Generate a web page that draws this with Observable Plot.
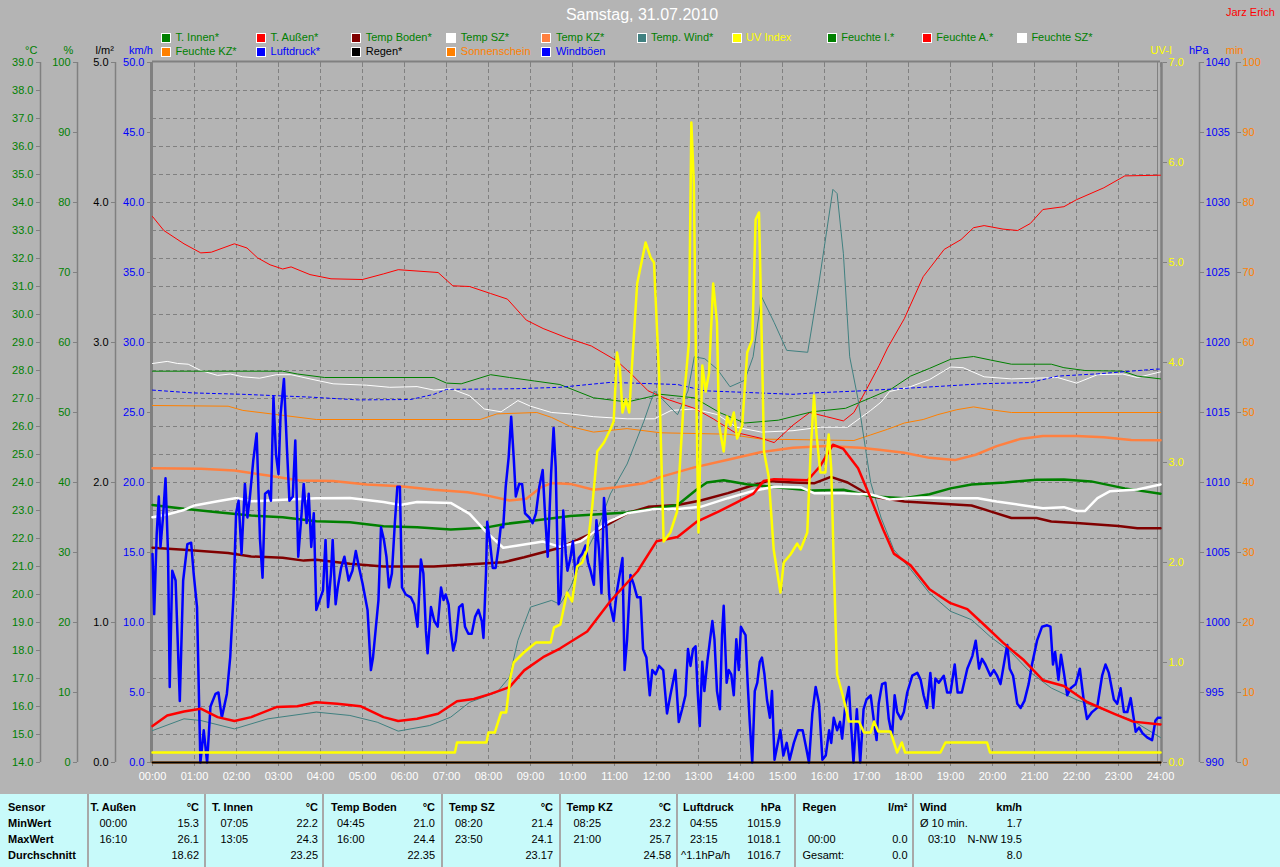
<!DOCTYPE html>
<html><head><meta charset="utf-8">
<script src="https://cdn.jsdelivr.net/npm/d3@7"></script>
<script src="https://cdn.jsdelivr.net/npm/@observablehq/plot@0.6"></script>
<style>
html,body{margin:0;padding:0;background:#b4b4b4;overflow:hidden;}
#wrap{position:relative;width:1280px;height:867px;overflow:hidden;background:#b4b4b4;font-family:"Liberation Sans",Arial,sans-serif;font-size:11px;}
#chart{position:absolute;left:0;top:0;}
.abs{position:absolute;white-space:nowrap;line-height:13px;}
.sw{position:absolute;width:10px;height:10px;box-sizing:border-box;border:1px solid #fff;}
#table{position:absolute;left:0;top:794px;width:1280px;height:73px;background:#c8fafa;}
.sep{position:absolute;top:0;width:2px;height:73px;background:#a8a8a8;}
.b{font-weight:bold;}
</style></head><body><div id="wrap"><div id="chart"></div><div id="table"></div></div>
<script>
// ---------- ticks / labels ----------
const hours = d3.range(0, 25);
const hourLabels = hours.map(h => String(h).padStart(2, "0") + ":00");
const tempTicks = d3.range(14, 40);
const humTicks = d3.range(0, 101, 10);
const rainTicks = d3.range(0, 6);
const windTicks = d3.range(0, 51, 5);
const uvTicks = d3.range(0, 8);
const pressTicks = d3.range(990, 1041, 5);
const sunTicks = d3.range(0, 101, 10);

// ---------- series: [hour, value] ----------
const tInnen = [[0,23.2],[0.75,23.06],[1.55,22.94],[2.35,22.82],[3.1,22.76],[3.9,22.62],[4.7,22.58],[5.5,22.44],[6.3,22.4],[7.1,22.32],[7.9,22.38],[8.4,22.52],[9.1,22.64],[9.95,22.8],[11.3,22.93],[12.5,23.2],[12.95,23.74],[13.2,24.0],[13.6,24.08],[14.15,23.94],[14.9,23.82],[15.7,23.71],[16.45,23.74],[17.1,23.51],[17.9,23.44],[18.5,23.58],[19.0,23.79],[19.5,23.93],[20.3,24.0],[21.05,24.1],[21.7,24.11],[22.35,24.04],[23.15,23.79],[24,23.6]];
const tAussen = [[0,15.3],[0.35,15.68],[0.75,15.82],[1.15,15.92],[1.55,15.62],[1.95,15.48],[2.35,15.62],[2.95,15.98],[3.45,16.01],[3.9,16.15],[4.4,16.1],[4.95,16.01],[5.5,15.62],[5.85,15.48],[6.3,15.56],[6.8,15.74],[7.25,16.19],[7.65,16.27],[8.05,16.45],[8.5,16.69],[8.85,17.29],[9.3,17.76],[9.7,18.07],[10.35,18.68],[10.9,19.76],[11.55,20.83],[12.0,21.9],[12.5,22.05],[12.95,22.59],[13.5,22.98],[13.9,23.28],[14.3,23.59],[14.55,24.05],[14.8,24.12],[15.6,24.08],[15.9,24.59],[16.2,25.35],[16.45,25.2],[16.8,24.51],[17.1,23.44],[17.4,22.31],[17.65,21.46],[18.05,21.04],[18.5,20.19],[19.0,19.69],[19.4,19.48],[19.8,18.92],[20.25,18.28],[20.75,17.65],[21.2,16.94],[21.7,16.73],[22.25,16.16],[22.9,15.74],[23.35,15.46],[24,15.36]];
const tempBoden = [[0,21.67],[0.75,21.6],[1.8,21.48],[2.35,21.36],[3.1,21.31],[3.6,21.21],[3.9,21.24],[4.7,21.1],[5.5,21.0],[6.7,21.0],[7.5,21.07],[8.35,21.15],[8.85,21.33],[9.3,21.51],[9.7,21.67],[10.5,22.21],[11.3,22.9],[11.8,23.13],[12.5,23.2],[13.05,23.36],[13.7,23.62],[14.3,23.9],[14.65,24.05],[15.25,24.0],[15.75,23.97],[16.15,24.2],[16.55,24.0],[16.85,23.74],[17.1,23.51],[17.9,23.32],[18.7,23.25],[19.5,23.18],[19.95,22.97],[20.45,22.73],[21.05,22.73],[21.4,22.61],[22.0,22.55],[23.0,22.45],[23.45,22.37],[24,22.37]];
const tempSZ = [[0,22.76],[0.35,22.86],[0.75,23.02],[1.0,23.18],[1.55,23.33],[2.0,23.45],[2.35,23.33],[3.1,23.38],[3.9,23.44],[4.7,23.45],[5.5,23.3],[5.9,23.2],[6.3,23.3],[7.1,23.27],[7.55,22.88],[7.95,22.23],[8.35,21.67],[8.7,21.75],[9.3,21.89],[9.7,21.7],[10.2,21.9],[10.85,22.59],[11.3,22.9],[11.95,23.05],[12.5,23.05],[13.05,23.13],[13.7,23.44],[14.3,23.7],[14.8,23.85],[15.45,23.82],[15.75,23.62],[16.45,23.62],[17.1,23.57],[17.55,23.39],[18.3,23.46],[19.0,23.44],[19.65,23.44],[20.1,23.32],[20.75,23.18],[21.2,23.08],[21.7,23.12],[22.0,22.98],[22.2,22.98],[22.5,23.44],[22.8,23.69],[23.45,23.75],[24,23.93]];
const tempKZ = [[0,24.51],[1.15,24.49],[1.95,24.43],[2.75,24.25],[3.5,24.07],[4.3,24.05],[5.1,23.93],[5.9,23.87],[6.7,23.74],[7.5,23.65],[7.95,23.54],[8.5,23.36],[8.9,23.42],[9.25,23.83],[9.5,23.98],[9.95,23.95],[10.5,23.74],[11.0,23.82],[11.7,23.97],[12.1,24.2],[12.9,24.54],[13.7,24.81],[14.5,25.09],[15.25,25.24],[16.05,25.3],[16.85,25.24],[17.3,25.17],[17.9,25.06],[18.5,24.88],[19.1,24.8],[19.6,24.99],[20.1,25.3],[20.65,25.55],[21.2,25.66],[22.0,25.66],[22.65,25.62],[23.3,25.52],[24,25.51]];
const tempWind = [[0,15.14],[0.75,15.56],[1.15,15.5],[1.95,15.2],[2.75,15.56],[3.9,15.8],[4.7,15.68],[5.35,15.44],[5.85,15.12],[6.6,15.32],[7.1,15.62],[7.55,16.15],[8.2,16.51],[8.5,17.05],[8.7,18.36],[9.0,19.55],[9.5,19.79],[9.7,19.65],[9.95,20.26],[10.2,21.14],[10.6,22.36],[10.9,23.59],[11.3,24.66],[11.7,26.19],[11.95,27.27],[12.15,26.96],[12.5,26.42],[12.75,27.27],[12.9,28.49],[13.15,28.42],[13.45,28.04],[13.75,27.42],[14.1,27.65],[14.3,28.49],[14.5,30.64],[14.8,29.72],[15.1,28.72],[15.6,28.65],[15.85,30.95],[16.2,34.47],[16.3,34.32],[16.45,32.17],[16.6,28.49],[16.8,26.96],[17.0,24.97],[17.1,24.0],[17.35,22.73],[17.65,21.6],[18.05,20.9],[18.5,20.05],[19.0,19.4],[19.5,19.1],[19.95,18.49],[20.45,17.93],[20.9,17.22],[21.4,16.66],[22.0,16.24],[22.65,15.88],[23.3,15.53],[24,14.89]];
const feuchteI = [[0,55.9],[3.1,55.9],[3.45,55.5],[4.1,55],[6.7,55],[7.0,54.2],[7.35,54.1],[8.05,55.4],[8.5,55],[9.1,54.5],[9.7,54],[10.5,52.1],[11.3,51.5],[12.1,52.6],[12.9,52.1],[13.5,50],[14.1,48.5],[14.9,48.9],[15.7,50.1],[16.5,50.6],[17.1,52.1],[17.6,53.4],[18.05,55.2],[18.5,56.3],[19.0,57.6],[19.55,58],[19.95,57.5],[20.45,56.9],[21.4,56.9],[21.7,56.4],[22.2,56],[23.1,55.9],[23.45,55.2],[24,54.8]];
const feuchteA = [[0,78],[0.27,76],[0.75,74.1],[1.15,72.8],[1.4,72.9],[1.95,74.1],[2.25,73.5],[2.5,72.1],[2.8,71.1],[3.1,70.5],[3.3,70.8],[3.75,69.7],[4.25,69.1],[5.0,69.0],[5.5,69.8],[5.85,70.4],[6.8,70],[7.15,68.1],[7.55,68],[8.05,67],[8.45,66.2],[8.9,63.2],[9.3,62],[9.85,60.7],[10.45,59.5],[11.05,57.4],[11.4,55.5],[11.8,53.1],[12.25,51.9],[12.9,50.6],[13.35,49.1],[13.85,47.2],[14.5,46.3],[14.8,45.7],[15.25,48.2],[15.65,50],[16.05,49.4],[16.45,48.8],[16.7,50],[17.0,53.3],[17.3,56.7],[17.5,59.2],[17.9,63.4],[18.35,69.4],[18.85,73.3],[19.25,74.7],[19.55,76.4],[19.8,76.7],[20.25,76.2],[20.6,76],[20.9,77],[21.2,79],[21.7,79.4],[22.0,80.4],[22.65,82.1],[23.15,83.8],[24,83.9]];
const feuchteSZ = [[0,57],[0.35,57.3],[0.6,57],[0.85,56.9],[1.15,56],[1.55,55.3],[1.85,55.5],[2.15,55.1],[2.55,54.9],[2.95,55.4],[3.3,55.4],[3.75,54.8],[4.3,54.1],[5.1,53.9],[5.65,53.6],[6.3,53.7],[6.7,53.2],[7.1,53.4],[7.55,52.4],[7.9,50.5],[8.3,50.1],[8.7,51.7],[9.0,50.9],[9.5,50],[9.95,49.8],[10.5,49.4],[11.3,49.1],[11.95,49.1],[12.35,50.3],[12.9,50.5],[13.45,49.7],[13.9,47.9],[14.5,47.2],[15.25,47.4],[15.9,47.9],[16.55,47.9],[17.1,50.3],[17.35,51.5],[17.55,53],[18.05,53.7],[18.5,54.7],[19.0,56.5],[19.3,56.4],[19.8,55.1],[20.45,54.8],[21.55,55],[22.0,54.2],[22.5,55.4],[23.1,55.5],[23.45,55],[24,55.8]];
const feuchteKZ = [[0,51],[1.8,50.9],[2.15,50.3],[3.1,49.6],[3.9,49],[7.8,49],[8.2,49.8],[9.15,50],[9.5,49.3],[9.95,48],[10.5,47.2],[11.3,47.7],[12.1,47.1],[13.7,46.9],[14.5,46.2],[16.7,46],[17.1,46.8],[17.5,47.6],[17.9,48.5],[18.35,49],[18.7,49.7],[19.15,50.4],[19.55,50.8],[19.95,50.4],[20.45,50],[24,50]];
const luftdruck = [[0,1016.6],[0.95,1016.4],[2.15,1016.3],[3.75,1016.1],[4.9,1015.9],[6.15,1015.93],[6.7,1016.3],[7.0,1016.65],[8.7,1016.7],[9.7,1016.8],[10.9,1017.15],[12.5,1017.0],[13.15,1016.55],[15.25,1016.3],[15.75,1016.4],[16.9,1016.55],[18.7,1016.86],[19.8,1017.06],[20.9,1017.14],[21.55,1017.6],[22.5,1017.76],[23.9,1018.1],[24,1018.1]];
const regen = [[0,0],[24,0]];
const sonnenschein = [[0,0],[24,0]];
const uvIndex = [[0,0.1],[7.2,0.1],[7.25,0.2],[7.95,0.2],[8.0,0.3],[8.15,0.3],[8.3,0.5],[8.42,0.5],[8.52,0.85],[8.6,1.0],[8.84,1.1],[9.13,1.2],[9.48,1.2],[9.56,1.35],[9.71,1.38],[9.87,1.7],[9.99,1.61],[10.11,1.96],[10.23,2.0],[10.35,2.13],[10.47,2.56],[10.59,3.11],[10.75,3.2],[10.9,3.33],[10.98,3.41],[11.06,4.1],[11.13,3.93],[11.19,3.5],[11.27,3.63],[11.35,3.5],[11.43,4.06],[11.54,4.79],[11.74,5.2],[11.86,5.05],[11.94,5.0],[12.06,3.89],[12.17,2.21],[12.33,2.3],[12.49,2.51],[12.65,3.63],[12.77,4.19],[12.83,6.4],[12.89,5.78],[12.95,3.63],[13.0,2.3],[13.09,3.97],[13.17,3.71],[13.25,3.89],[13.35,4.79],[13.44,4.4],[13.49,3.37],[13.6,3.11],[13.68,3.46],[13.76,3.37],[13.84,3.5],[13.92,3.24],[14.04,3.37],[14.16,4.1],[14.28,4.23],[14.36,5.43],[14.44,5.5],[14.48,4.75],[14.56,3.11],[14.67,2.86],[14.79,2.13],[14.95,1.7],[15.03,2.0],[15.19,2.08],[15.35,2.19],[15.43,2.13],[15.59,2.3],[15.67,3.11],[15.75,3.67],[15.81,3.28],[15.9,2.9],[16.02,2.9],[16.06,3.11],[16.1,3.28],[16.16,2.94],[16.22,2.0],[16.3,0.88],[16.46,0.63],[16.58,0.41],[16.82,0.41],[16.94,0.3],[17.1,0.3],[17.18,0.41],[17.28,0.31],[17.57,0.31],[17.73,0.1],[17.84,0.2],[17.92,0.1],[18.76,0.1],[18.88,0.2],[19.87,0.2],[19.94,0.1],[24,0.1]];
const windboeen = [[0,14.9],[0.04,10.6],[0.1,16.3],[0.15,19.0],[0.19,15.4],[0.25,17.5],[0.31,20.3],[0.37,14.9],[0.41,5.4],[0.47,13.7],[0.55,13.0],[0.65,4.4],[0.73,13.0],[0.83,15.6],[0.92,15.7],[0.98,13.5],[1.06,11.1],[1.14,0],[1.22,2.3],[1.3,0],[1.38,4.0],[1.5,4.9],[1.57,5.0],[1.65,3.2],[1.77,4.9],[1.85,7.5],[1.93,12.0],[1.99,17.8],[2.05,18.7],[2.12,14.9],[2.2,19.9],[2.26,17.5],[2.32,19.0],[2.4,21.6],[2.48,23.5],[2.56,15.9],[2.62,13.2],[2.68,19.2],[2.76,19.4],[2.82,18.7],[2.88,26.1],[2.94,22.0],[3.0,20.6],[3.05,24.9],[3.13,27.4],[3.2,22.5],[3.26,18.7],[3.34,19.0],[3.4,23.0],[3.47,14.7],[3.55,17.8],[3.6,19.9],[3.67,17.1],[3.72,19.2],[3.78,15.4],[3.84,17.8],[3.9,10.9],[3.98,11.6],[4.06,12.3],[4.12,15.9],[4.18,11.1],[4.25,13.5],[4.29,15.9],[4.36,11.3],[4.41,12.5],[4.49,13.9],[4.57,14.7],[4.67,13.0],[4.76,13.7],[4.84,15.1],[4.92,13.9],[5.0,12.8],[5.12,10.9],[5.2,6.6],[5.25,7.5],[5.32,9.7],[5.38,11.6],[5.44,16.8],[5.51,15.9],[5.57,14.7],[5.63,12.5],[5.7,13.5],[5.77,17.1],[5.83,19.7],[5.89,19.7],[5.94,12.5],[6.03,12.0],[6.15,11.8],[6.23,11.3],[6.31,9.7],[6.39,14.5],[6.45,13.5],[6.51,9.4],[6.55,7.8],[6.63,11.1],[6.71,10.1],[6.79,9.7],[6.87,12.5],[6.93,11.6],[6.98,12.0],[7.05,11.3],[7.1,9.4],[7.16,8.0],[7.22,8.7],[7.3,11.1],[7.38,11.3],[7.44,9.7],[7.52,9.2],[7.6,9.2],[7.68,10.4],[7.76,10.9],[7.84,10.1],[7.88,8.9],[7.94,13.5],[7.97,17.2],[8.03,15.9],[8.1,13.9],[8.17,13.9],[8.24,15.4],[8.29,16.8],[8.35,16.8],[8.41,19.7],[8.48,21.8],[8.54,24.7],[8.6,21.8],[8.65,19.0],[8.73,19.9],[8.8,19.9],[8.87,17.8],[8.97,17.5],[9.05,17.1],[9.13,17.8],[9.21,19.7],[9.29,20.9],[9.35,17.5],[9.41,14.7],[9.49,20.6],[9.55,23.9],[9.6,21.1],[9.67,11.3],[9.72,12.0],[9.78,18.0],[9.84,14.9],[9.88,13.7],[9.95,14.6],[10.01,15.8],[10.07,13.4],[10.15,14.6],[10.23,14.9],[10.31,15.5],[10.37,14.3],[10.43,13.7],[10.51,12.7],[10.57,17.3],[10.63,15.2],[10.69,12.1],[10.75,18.9],[10.81,16.7],[10.87,12.1],[10.9,11.2],[10.98,10.1],[11.05,12.1],[11.1,13.0],[11.19,14.6],[11.24,6.6],[11.3,8.8],[11.38,13.4],[11.46,12.7],[11.54,11.8],[11.62,11.8],[11.68,8.1],[11.76,7.5],[11.84,4.8],[11.9,6.6],[11.98,6.3],[12.06,6.9],[12.16,6.6],[12.25,3.5],[12.33,4.8],[12.45,6.6],[12.53,2.9],[12.61,3.8],[12.69,4.8],[12.75,8.1],[12.81,6.9],[12.87,8.1],[12.93,8.3],[12.98,5.1],[13.03,2.6],[13.09,7.2],[13.14,5.1],[13.21,7.2],[13.26,8.4],[13.33,10.1],[13.38,8.8],[13.44,5.1],[13.51,3.8],[13.56,9.1],[13.6,11.2],[13.67,5.7],[13.72,6.6],[13.78,6.3],[13.84,4.8],[13.9,8.8],[13.96,6.6],[14.01,9.7],[14.06,9.4],[14.12,9.1],[14.17,5.7],[14.22,2.9],[14.28,0],[14.34,5.1],[14.4,5.7],[14.46,7.2],[14.51,7.5],[14.57,6.3],[14.63,4.5],[14.7,3.2],[14.75,5.1],[14.81,0.2],[14.87,1.1],[14.95,2.3],[15.02,0.5],[15.1,1.4],[15.17,0.2],[15.27,1.4],[15.37,2.3],[15.48,2.3],[15.56,1.1],[15.63,0],[15.71,3.5],[15.79,5.4],[15.87,4.2],[15.95,0.2],[16.03,0.5],[16.11,2.3],[16.16,1.4],[16.22,3.2],[16.3,2.3],[16.37,2.9],[16.42,1.7],[16.5,4.2],[16.58,5.4],[16.64,2.3],[16.69,0],[16.77,3.8],[16.85,0],[16.93,3.8],[17.0,4.5],[17.1,4.8],[17.17,3.1],[17.24,1.6],[17.29,4.2],[17.37,5.6],[17.45,5.7],[17.53,3.1],[17.61,1.9],[17.67,4.8],[17.73,3.6],[17.82,3.1],[17.89,3.6],[17.97,5.0],[18.09,6.2],[18.21,6.4],[18.29,5.9],[18.36,4.8],[18.44,3.9],[18.52,6.4],[18.59,3.9],[18.64,6.0],[18.72,5.7],[18.84,6.2],[18.92,5.0],[19.0,5.0],[19.1,7.0],[19.17,5.0],[19.27,5.0],[19.4,6.7],[19.52,7.6],[19.6,8.7],[19.68,6.7],[19.75,7.4],[19.83,7.0],[19.95,6.2],[20.03,6.6],[20.11,6.2],[20.19,5.6],[20.27,7.0],[20.35,8.4],[20.41,6.7],[20.49,6.2],[20.59,4.2],[20.67,3.9],[20.76,4.4],[20.86,5.6],[20.94,7.0],[21.06,8.7],[21.18,9.7],[21.3,9.8],[21.38,9.7],[21.44,7.0],[21.49,7.9],[21.57,5.9],[21.63,7.7],[21.7,6.4],[21.78,4.8],[21.86,5.3],[21.98,5.6],[22.08,6.7],[22.17,4.5],[22.25,3.1],[22.37,3.6],[22.49,3.9],[22.61,6.2],[22.69,7.0],[22.77,6.4],[22.89,4.5],[22.97,4.2],[23.05,5.3],[23.13,3.6],[23.21,3.6],[23.29,4.6],[23.35,3.4],[23.41,2.2],[23.49,2.5],[23.57,2.1],[23.68,1.8],[23.8,1.6],[23.88,3.0],[23.94,3.2],[24,3.2]];

// ---------- legend / text ----------
const titleText = "Samstag, 31.07.2010";
const authorText = "Jarz Erich";
const legendRow1 = ["T. Innen*","T. Außen*","Temp Boden*","Temp SZ*","Temp KZ*","Temp. Wind*","UV Index","Feuchte I.*","Feuchte A.*","Feuchte SZ*"];
const legendRow1Swatch = ["#008000","#ff0000","#800000","#ffffff","#ff8040","#408080","#ffff00","#008000","#ff0000","#ffffff"];
const legendRow1Text = ["#008000","#008000","#008000","#008000","#008000","#008000","#ffff00","#008000","#008000","#008000"];
const legendRow2 = ["Feuchte KZ*","Luftdruck*","Regen*","Sonnenschein","Windböen"];
const legendRow2Swatch = ["#ff8000","#0000ff","#000000","#ff8000","#0000ff"];
const legendRow2Text = ["#008000","#0000ff","#000000","#ff8000","#0000ff"];
const unitLeft = ["°C","%","l/m²","km/h"];
const unitRight = ["UV-I","hPa","min"];

// ---------- table ----------
const tableRowLabels = ["Sensor","MinWert","MaxWert","Durchschnitt"];
const tableSensors = ["T. Außen","T. Innen","Temp Boden","Temp SZ","Temp KZ","Luftdruck","Regen","Wind"];
const tableUnits = ["°C","°C","°C","°C","°C","hPa","l/m²","km/h"];
const tableMinTime = ["00:00","07:05","04:45","08:20","08:25","04:55","","Ø 10 min."];
const tableMinVal = ["15.3","22.2","21.0","21.4","23.2","1015.9","","1.7"];
const tableMaxTime = ["16:10","13:05","16:00","23:50","21:00","23:15","00:00","03:10"];
const tableMaxVal = ["26.1","24.3","24.4","24.1","25.7","1018.1","0.0","N-NW 19.5"];
const tableAvgLabel = ["","","","","","^1.1hPa/h","Gesamt:",""];
const tableAvgVal = ["18.62","23.25","22.35","23.17","24.58","1016.7","0.0","8.0"];

// ---------- conversions to the °C-based y scale ----------
const cv = {
  c: t => t,
  pct: p => 14 + p / 4,
  kmh: v => 14 + v / 2,
  uv: u => 14 + u * 25 / 7,
  hpa: h => 14 + (h - 990) / 2,
  rain: r => 14 + r * 5,
  min: m => 14 + m / 4
};

const GRID = "#808080";
function ln(data, f, stroke, w, extra = {}) {
  return Plot.line(data, {x: d => d[0], y: d => f(d[1]), stroke, strokeWidth: w, strokeLinejoin: "round", ...extra});
}
function leftAxis(vals, f, fmt, dx, color) {
  return [
    Plot.ruleX([0], {dx: dx, stroke: GRID, strokeWidth: 1.5}),
    Plot.axisY(vals.map(f), {anchor: "left", dx: dx, tickSize: 4, tickPadding: 3, stroke: GRID, fill: color, fontSize: 11, label: null, tickFormat: fmt})
  ];
}
function rightAxis(vals, f, fmt, dx, color) {
  return [
    Plot.ruleX([24], {dx: dx, stroke: GRID, strokeWidth: 1.5}),
    Plot.axisY(vals.map(f), {anchor: "right", dx: dx, tickSize: 4, tickPadding: 2, stroke: GRID, fill: color, fontSize: 11, label: null, tickFormat: fmt})
  ];
}

const chart = Plot.plot({
  width: 1280, height: 794,
  marginTop: 62, marginBottom: 32, marginLeft: 152, marginRight: 120,
  x: {domain: [0, 24], type: "linear"},
  y: {domain: [14, 39], type: "linear"},
  style: {background: "transparent", fontFamily: "Liberation Sans, Arial, sans-serif", fontSize: "11px", overflow: "visible"},
  marks: [
    Plot.gridX(hours.slice(1, -1), {stroke: GRID, strokeOpacity: 1, strokeDasharray: "4,3", shapeRendering: "crispEdges"}),
    Plot.gridY(tempTicks.slice(1, -1), {stroke: GRID, strokeOpacity: 1, strokeDasharray: "4,3", shapeRendering: "crispEdges"}),
    // left axes
    ...leftAxis(tempTicks, cv.c, d => d.toFixed(1), -112, "#008000"),
    ...leftAxis(humTicks, cv.pct, d => String(Math.round((d - 14) * 4)), -75, "#008000"),
    ...leftAxis(rainTicks, cv.rain, d => ((d - 14) / 5).toFixed(1), -37, "#000000"),
    Plot.axisY(windTicks.map(cv.kmh), {anchor: "left", dx: -1, tickSize: 4, tickPadding: 3, stroke: GRID, fill: "#0000ff", fontSize: 11, label: null, tickFormat: d => ((d - 14) * 2).toFixed(1)}),
    // right axes
    Plot.axisY(uvTicks.map(cv.uv), {anchor: "right", dx: 2, tickSize: 4, tickPadding: 2, stroke: GRID, fill: "#ffff00", fontSize: 11, label: null, tickFormat: d => ((d - 14) * 7 / 25).toFixed(1)}),
    ...rightAxis(pressTicks, cv.hpa, d => String(Math.round(990 + (d - 14) * 2)), 39, "#0000ff"),
    ...rightAxis(sunTicks, cv.min, d => String(Math.round((d - 14) * 4)), 76, "#ff8000"),
    // unit labels
    ...unitLeft.map((u, i) => Plot.text([u], {text: d => d, frameAnchor: "top-left", dx: [24.5, 63, 95, 128.5][i] - 152, dy: -16, fill: ["#008000", "#008000", "#000000", "#0000ff"][i], fontSize: 11})),
    ...unitRight.map((u, i) => Plot.text([u], {text: d => d, frameAnchor: "top-right", dx: [11.5, 48, 83][i], dy: -16, fill: ["#ffff00", "#0000ff", "#ff8000"][i], fontSize: 11})),
    // x axes
    Plot.axisX(hours, {anchor: "bottom", tickSize: 4, tickPadding: 6, stroke: GRID, fill: "#ffffff", fontSize: 11, label: null, tickFormat: h => hourLabels[h]}),
    Plot.axisX(hours, {anchor: "top", tickSize: 4, dy: 4, stroke: GRID, fill: "none", label: null}),
    // frame
    Plot.ruleY([39], {stroke: GRID, strokeWidth: 2, dy: -1}),
    Plot.ruleX([0], {stroke: GRID, strokeWidth: 3, dx: -1}),
    Plot.ruleX([24], {stroke: GRID, strokeWidth: 1, dx: -3}),
    Plot.ruleX([24], {stroke: GRID, strokeWidth: 2.5, dx: 1}),
    // thin series
    ln(feuchteKZ, cv.pct, "#ff8000", 1),
    ln(feuchteSZ, cv.pct, "#ffffff", 1),
    ln(feuchteA, cv.pct, "#ff0000", 1),
    ln(feuchteI, cv.pct, "#008000", 1),
    ln(luftdruck, cv.hpa, "#0000ff", 1, {strokeDasharray: "3,3"}),
    ln(tempWind, cv.c, "#408080", 1),
    ln(sonnenschein, cv.min, "#ff8000", 2),
    // thick series
    ln(tempKZ, cv.c, "#ff8040", 2.5),
    ln(tempBoden, cv.c, "#800000", 2.5),
    ln(tInnen, cv.c, "#008000", 2.5),
    ln(tempSZ, cv.c, "#ffffff", 2.5),
    ln(windboeen, cv.kmh, "#0000ff", 2.5),
    ln(tAussen, cv.c, "#ff0000", 2.5),
    ln(uvIndex, cv.uv, "#ffff00", 2.5),
    ln(regen, cv.rain, "#000000", 2)
  ]
});
document.getElementById("chart").appendChild(chart);

// ---------- header (title, author, legend) ----------
const wrap = document.getElementById("wrap");
function addText(parent, txt, left, top, color, cls = "", extra = "") {
  const d = document.createElement("div");
  d.className = "abs " + cls;
  d.textContent = txt;
  d.style.cssText += `left:${left}px;top:${top}px;color:${color};${extra}`;
  parent.appendChild(d);
  return d;
}
addText(wrap, titleText, 442, 6, "#ffffff", "", "width:400px;text-align:center;font-size:16px;line-height:18px;");
addText(wrap, authorText, 1226, 6, "#ff0000");
function legendRow(names, sw, tc, top) {
  names.forEach((n, i) => {
    const x = 161 + i * 95.1;
    const s = document.createElement("div");
    s.className = "sw";
    s.style.cssText += `left:${x}px;top:${top + 1}px;background:${sw[i]};`;
    wrap.appendChild(s);
    addText(wrap, n, x + 14.5, top - 1, tc[i]);
  });
}
legendRow(legendRow1, legendRow1Swatch, legendRow1Text, 32);
legendRow(legendRow2, legendRow2Swatch, legendRow2Text, 46);

// ---------- table ----------
const tbl = document.getElementById("table");
const rowTop = [9, 25, 41, 57];
[87, 204, 322, 441, 559, 676, 794, 912].forEach(x => {
  const s = document.createElement("div"); s.className = "sep"; s.style.left = x + "px"; tbl.appendChild(s);
});
tableRowLabels.forEach((t, r) => addText(tbl, t, 8, rowTop[r] - 2, "#000", "b"));
const colTitle = [90.5, 212, 331, 449, 566.5, 683, 802.5, 920];
const colTime = [99.5, 220.5, 337, 455, 573.5, 690, 808, 928];
const colRight = [199, 318, 435, 553, 671, 781, 907.5, 1022];
function addRight(txt, right, top, cls = "") {
  addText(tbl, txt, right - 200, top, "#000", cls, "width:200px;text-align:right;");
}
tableSensors.forEach((s, i) => {
  addText(tbl, s, colTitle[i], rowTop[0] - 2, "#000", "b");
  addRight(tableUnits[i], colRight[i], rowTop[0] - 2, "b");
  const tx1 = i === 7 ? colTitle[i] : colTime[i];
  addText(tbl, tableMinTime[i], tx1, rowTop[1] - 2, "#000");
  addRight(tableMinVal[i], colRight[i], rowTop[1] - 2);
  addText(tbl, tableMaxTime[i], colTime[i], rowTop[2] - 2, "#000");
  addRight(tableMaxVal[i], colRight[i], rowTop[2] - 2);
  addText(tbl, tableAvgLabel[i], i === 5 ? 681 : colTitle[i], rowTop[3] - 2, "#000");
  addRight(tableAvgVal[i], colRight[i], rowTop[3] - 2);
});
</script></body></html>
